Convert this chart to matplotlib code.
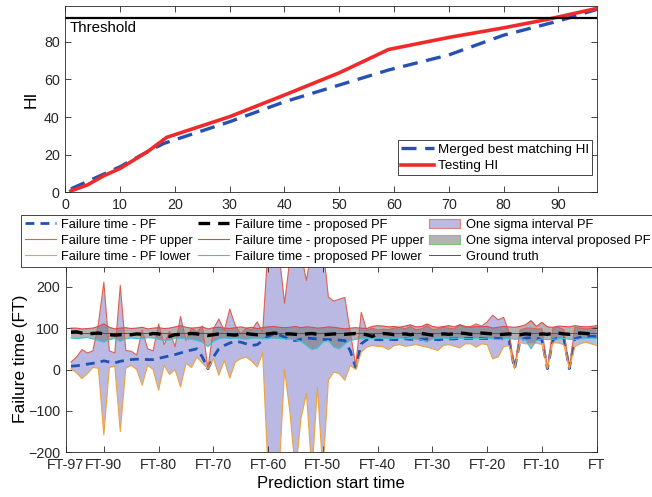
import numpy as np
import matplotlib
matplotlib.use('agg')
import matplotlib.pyplot as plt
from matplotlib.patches import Patch

plt.rcParams['font.family'] = ['Liberation Sans', 'DejaVu Sans']

# --- health index curves (knots) ---
merged_x = [1, 10, 15, 18, 30, 40, 50, 59, 70, 80, 90, 97]
merged_hi = [1.8, 13.6, 21.6, 26, 37.5, 48.1, 57, 65, 73, 83.5, 91, 97.2]
test_x = [1, 4, 7, 10, 15, 18.5, 30, 40, 50, 59, 70, 80, 88, 97]
test_hi = [0.7, 3.9, 8.8, 12.7, 21.6, 29.2, 40.2, 51.7, 63.5, 75.9, 82.3, 87.4, 91.9, 97.7]
threshold = 92.4

# --- failure time predictions, prediction start FT-96 .. FT ---
pf_mean = [8, 9, 11, 13, 15, 17, 21, 18, 16, 20,
           22, 24, 25, 25, 24, 24, 27, 30, 33, 36,
           40, 44, 47, 50, 30, 2, 30, 50, 58, 64,
           68, 66, 62, 58, 60, 70, 80, 86, 84, 78,
           72, 70, 73, 76, 75, 74, 73, 72, 72, 71,
           70, 45, 5, 62, 72, 73, 72, 72, 73, 72,
           73, 74, 73, 72, 73, 74, 73, 72, 73, 74,
           74, 75, 75, 75, 76, 75, 75, 76, 75, 74,
           70, 2, 70, 76, 77, 76, 72, 2, 72, 77,
           76, 2, 74, 78, 79, 80, 80]
pf_upper = [18, 30, 48, 40, 45, 110, 211, 45, 40, 203,
            46, 44, 35, 95, 50, 45, 110, 60, 92, 55,
            128, 70, 100, 90, 105, 2, 98, 122, 94, 146,
            106, 86, 100, 95, 115, 90, 300, 300, 280, 160,
            270, 300, 280, 215, 300, 270, 300, 175, 165, 170,
            174, 90, 10, 138, 95, 100, 95, 97, 96, 100,
            102, 98, 104, 96, 98, 106, 96, 98, 102, 100,
            98, 108, 102, 104, 110, 105, 115, 131, 120, 126,
            90, 2, 95, 100, 100, 98, 98, 2, 100, 102,
            96, 2, 102, 100, 98, 100, 102]
pf_lower = [2, -8, -22, -10, 5, 3, -158, 5, 8, -150,
            3, 10, 0, -38, 10, 0, -50, 10, -12, 0,
            -42, 15, 5, 30, 15, 2, 26, -14, 22, -21,
            18, 26, 30, 20, 6, 40, -250, -250, -250, 0,
            -106, -250, -118, -58, -250, -42, -250, -26, -6, -10,
            -26, 10, 0, 42, 54, 58, 56, 55, 48, 58,
            60, 56, 58, 60, 57, 54, 50, 46, 58, 60,
            56, 52, 62, 62, 54, 62, 60, 26, 30, 55,
            58, 2, 65, 62, 62, 64, 60, 2, 65, 64,
            60, 2, 55, 62, 66, 62, 58]
prop_mean = [90, 91, 88, 86, 87, 88, 86, 84, 83, 84,
             83, 84, 86, 85, 84, 87, 86, 82, 80, 84,
             85, 86, 87, 86, 84, 82, 84, 86, 85, 84,
             83, 86, 87, 85, 84, 85, 86, 88, 87, 86,
             86, 85, 84, 86, 87, 85, 84, 85, 86, 86,
             85, 86, 87, 86, 84, 80, 85, 87, 86, 84,
             85, 86, 84, 86, 87, 85, 83, 84, 86, 85,
             86, 88, 87, 85, 86, 88, 87, 86, 84, 85,
             86, 85, 84, 86, 85, 84, 86, 85, 87, 88,
             86, 85, 87, 88, 87, 86, 88]
prop_upper = [100, 100, 98, 99, 100, 104, 110, 102, 98, 100,
              101, 99, 100, 102, 98, 100, 101, 99, 100, 103,
              106, 102, 100, 101, 103, 98, 101, 102, 100, 99,
              101, 103, 100, 102, 99, 101, 103, 104, 102, 101,
              102, 104, 101, 103, 102, 100, 101, 103, 102, 100,
              98, 100, 101, 100, 99, 104, 106, 105, 103, 104,
              102, 105, 108, 103, 104, 110, 104, 102, 104, 106,
              103, 108, 104, 102, 104, 103, 104, 100, 102, 104,
              103, 102, 104, 108, 118, 104, 114, 103, 102, 105,
              104, 103, 106, 104, 103, 104, 106]
prop_lower = [76, 75, 76, 77, 74, 70, 66, 72, 75, 68,
              74, 76, 75, 74, 77, 76, 73, 70, 72, 75,
              76, 74, 73, 70, 66, 55, 68, 74, 76, 75,
              76, 74, 73, 75, 76, 74, 75, 76, 75, 74,
              73, 72, 68, 58, 48, 52, 66, 70, 54, 50,
              62, 70, 73, 74, 75, 74, 76, 75, 74, 75,
              76, 74, 75, 73, 72, 66, 74, 75, 76, 74,
              75, 76, 75, 74, 76, 75, 76, 74, 72, 74,
              75, 73, 74, 72, 50, 70, 74, 72, 73, 74,
              75, 73, 72, 74, 75, 76, 75]
ground_truth = 87

ft_ticks = [-97, -90, -80, -70, -60, -50, -40, -30, -20, -10, 0]
ft_labels = ['FT-97', 'FT-90', 'FT-80', 'FT-70', 'FT-60', 'FT-50',
             'FT-40', 'FT-30', 'FT-20', 'FT-10', 'FT']

AX_COL = '#262626'
TICK_FS = 10.3


def style_axes(ax):
    for s in ax.spines.values():
        s.set_color(AX_COL)
        s.set_linewidth(0.6)
    ax.tick_params(direction='in', top=True, right=True, colors=AX_COL,
                   labelsize=TICK_FS, length=4, width=0.6, pad=4)


fig = plt.figure(figsize=(6.52, 4.97), dpi=100)

# health index
ax1 = fig.add_axes([0.1003, 0.6131, 0.8149, 0.3748])
ax1.plot(merged_x, merged_hi, '--', color='#2650B4', lw=2.4, dashes=(4.5, 2.6),
         label='Merged best matching HI')
ax1.plot(test_x, test_hi, '-', color='#F02A2A', lw=2.6, label='Testing HI')
ax1.axhline(threshold, color='black', lw=1.6)
ax1.text(0.75, 91.0, 'Threshold', va='top', ha='left', fontsize=10.8, color='black')
ax1.set_xlim(0, 97)
ax1.set_ylim(0, 99)
ax1.set_xticks(range(0, 91, 10))
ax1.set_yticks(range(0, 81, 20))
ax1.set_ylabel('HI', fontsize=12.5, labelpad=4)
style_axes(ax1)
leg1 = ax1.legend(loc='lower right', bbox_to_anchor=(0.9906, 0.093),
                  fontsize=9.7, handlelength=2.5, handletextpad=0.27,
                  borderpad=0.2, labelspacing=0.32, fancybox=False,
                  framealpha=1, edgecolor=AX_COL, borderaxespad=0)
leg1.get_frame().set_linewidth(0.6)

# failure time
x = np.arange(-96, 1)
ax2 = fig.add_axes([0.1005, 0.0899, 0.8147, 0.3749])
ax2.fill_between(x, pf_lower, pf_upper, facecolor=(0.5, 0.5, 0.8), alpha=0.55, lw=0)
ax2.fill_between(x, prop_lower, prop_upper, facecolor=(0.45, 0.45, 0.45), alpha=0.55, lw=0)
l_pf, = ax2.plot(x, pf_mean, '--', color='#2052B4', lw=2.0, dashes=(3.2, 2.2))
l_pfu, = ax2.plot(x, pf_upper, color='#E0604C', lw=0.8)
l_pfl, = ax2.plot(x, pf_lower, color='#EDA33A', lw=0.8)
l_gt, = ax2.plot(x, np.full(len(x), ground_truth), color='#555555', lw=0.7)
l_pr, = ax2.plot(x, prop_mean, '--', color='black', lw=2.4, dashes=(3.5, 2.4))
l_pru, = ax2.plot(x, prop_upper, color='#E04848', lw=0.8)
l_prl, = ax2.plot(x, prop_lower, color='#3EC0D6', lw=0.8)
ax2.set_xlim(-97, 0)
ax2.set_ylim(-200, 250)
ax2.set_xticks(ft_ticks)
ax2.set_xticklabels(ft_labels)
ax2.set_yticks([-200, -100, 0, 100, 200])
ax2.set_xlabel('Prediction start time', fontsize=12, labelpad=3)
ax2.set_ylabel('Failure time (FT)', fontsize=12.5, labelpad=0)
style_axes(ax2)

p_pf = Patch(facecolor=(0.73, 0.73, 0.89), edgecolor='#E08080', lw=0.8)
p_pr = Patch(facecolor=(0.70, 0.70, 0.70), edgecolor='#80C080', lw=0.8)
handles = [l_pf, l_pfu, l_pfl, l_pr, l_pru, l_prl, p_pf, p_pr, l_gt]
labels = ['Failure time - PF', 'Failure time - PF upper', 'Failure time - PF lower',
          'Failure time - proposed PF', 'Failure time - proposed PF upper',
          'Failure time - proposed PF lower', 'One sigma interval PF',
          'One sigma interval proposed PF', 'Ground truth']
leg2 = fig.legend(handles, labels, ncol=3, loc='upper left',
                  bbox_to_anchor=(0.0319, 0.5674), fontsize=9.3, handlelength=2.4,
                  handletextpad=0.4, columnspacing=0.45, borderpad=0.3,
                  labelspacing=0.3, fancybox=False, framealpha=1,
                  edgecolor=AX_COL, borderaxespad=0)
leg2.get_frame().set_linewidth(0.6)

fig.savefig('out.png', dpi=100)
